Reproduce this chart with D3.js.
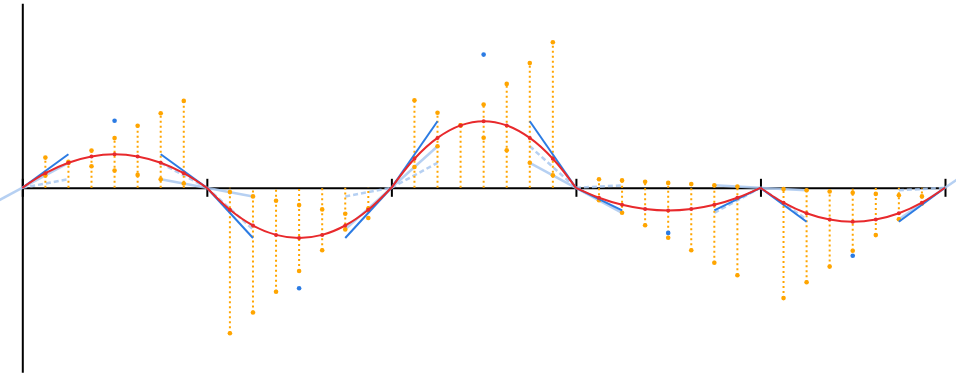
<!DOCTYPE html>
<html>
<head>
<meta charset="utf-8">
<script src="https://cdn.jsdelivr.net/npm/d3@7"></script>
<style>
  html, body { margin: 0; padding: 0; background: #fff; }
  svg { display: block; }
</style>
</head>
<body>
<svg id="chart" width="956" height="379"></svg>
<script>
// ---- data ----
const knots = [0, 1, 2, 3, 4, 5];
const sampleT = [0.125, 0.25, 0.375, 0.5, 0.625, 0.75, 0.875];
// rise of each knot's tangent line over a quarter segment
const knotRise = [0.248, -0.086, 0.416, -0.25, -0.0245, 0.315];
// orange: tangent line from the left knot, evaluated at each sample
const leftLine = [
  [0.124, 0.248, 0.372, 0.497, 0.621, 0.745, 0.869],
  [-0.043, -0.086, -0.129, -0.173, -0.216, -0.259, -0.302],
  [0.208, 0.416, 0.624, 0.832, 1.039, 1.247, 1.455],
  [-0.125, -0.25, -0.375, -0.5, -0.625, -0.75, -0.875],
  [-0.012, -0.025, -0.037, -0.049, -0.061, -0.074, -0.086]
];
// orange: tangent line from the right knot, evaluated at each sample
const rightLine = [
  [0.302, 0.259, 0.216, 0.173, 0.129, 0.086, 0.043],
  [-1.455, -1.247, -1.039, -0.832, -0.624, -0.416, -0.208],
  [0.875, 0.75, 0.625, 0.5, 0.375, 0.25, 0.125],
  [0.086, 0.074, 0.061, 0.049, 0.037, 0.025, 0.012],
  [-1.103, -0.945, -0.788, -0.63, -0.473, -0.315, -0.158]
];
// red curve samples
const curveVals = [
  [0.146, 0.251, 0.314, 0.335, 0.314, 0.251, 0.146],
  [-0.220, -0.377, -0.471, -0.502, -0.471, -0.377, -0.220],
  [0.291, 0.499, 0.624, 0.666, 0.624, 0.499, 0.291],
  [-0.099, -0.169, -0.211, -0.226, -0.211, -0.169, -0.099],
  [-0.149, -0.255, -0.318, -0.340, -0.318, -0.255, -0.149]
];
// blue end tangents reach this value at a quarter of the segment
const tangentTips = [0.335, -0.502, 0.666, -0.226, -0.340];
// blue control points at mid segment
const controlPoints = [0.67, -1.004, 1.332, -0.451, -0.679];

// ---- scales ----
const W = 956, H = 379;
const x = d3.scaleLinear().domain([0, 5]).range([22.3, 945]);
const y = d3.scaleLinear().domain([-1.845, 1.845]).range([372.3, 3.3]);

const C = {
  red: "#e8292c",
  blue: "#2b7be3",
  light: "#a9c8f0",
  orange: "#ffa500",
  black: "#000"
};

const svg = d3.select("#chart");
const segs = d3.range(5);

// ---- axes ----
const xAxis = d3.axisBottom(x).tickValues(knots).tickSize(9).tickSizeOuter(0).tickFormat("");
const gx = svg.append("g").attr("transform", `translate(0,${y(0)})`).call(xAxis);
gx.select(".domain").attr("stroke", C.black).attr("stroke-width", 2);
gx.selectAll(".tick line").attr("y1", -9).attr("y2", 9).attr("stroke", C.black).attr("stroke-width", 2);

const yAxis = d3.axisLeft(y).tickValues([]).tickSizeOuter(0);
const gy = svg.append("g").attr("transform", `translate(${x(0)},0)`).call(yAxis);
gy.select(".domain").attr("stroke", C.black).attr("stroke-width", 2);

const line = d3.line().x(d => x(d[0])).y(d => y(d[1]));

// ---- light blue knot tangent lines (solid) ----
svg.append("g").selectAll("path").data(knots).join("path")
  .attr("d", j => line([[j - 0.25, -knotRise[j]], [j + 0.25, knotRise[j]]]))
  .attr("fill", "none").attr("stroke", C.light).attr("stroke-width", 2.5)
  .attr("stroke-opacity", 0.85);

// ---- light blue mirrored tangents (dashed) ----
const dashedData = [];
segs.forEach(k => {
  dashedData.push([[k, 0], [k + 0.25, -knotRise[k + 1]]]);
  dashedData.push([[k + 0.75, knotRise[k]], [k + 1, 0]]);
});
svg.append("g").selectAll("path").data(dashedData).join("path")
  .attr("d", line)
  .attr("fill", "none").attr("stroke", C.light).attr("stroke-width", 2.5)
  .attr("stroke-dasharray", "5,3").attr("stroke-opacity", 0.85);

// ---- orange dotted sample lines and dots ----
const samples = [];
segs.forEach(k => sampleT.forEach((t, i) => {
  samples.push({ k, t, xv: k + t, l1: leftLine[k][i], l2: rightLine[k][i], r: curveVals[k][i] });
}));
const gO = svg.append("g");
gO.selectAll("line").data(samples).join("line")
  .attr("x1", d => x(d.xv)).attr("x2", d => x(d.xv))
  .attr("y1", d => y(Math.min(0, d.l1, d.l2)))
  .attr("y2", d => y(Math.max(0, d.l1, d.l2)))
  .attr("stroke", C.orange).attr("stroke-width", 2).attr("stroke-dasharray", "2,3");
const orangePts = samples.flatMap(d => [[d.xv, d.l1], [d.xv, d.l2]]);
gO.selectAll("circle").data(orangePts).join("circle")
  .attr("cx", d => x(d[0])).attr("cy", d => y(d[1])).attr("r", 2.3)
  .attr("fill", C.orange);

// ---- blue end tangents ----
const tanData = [];
segs.forEach(k => {
  tanData.push([[k, 0], [k + 0.25, tangentTips[k]]]);
  tanData.push([[k + 0.75, tangentTips[k]], [k + 1, 0]]);
});
svg.append("g").selectAll("path").data(tanData).join("path")
  .attr("d", line).attr("fill", "none").attr("stroke", C.blue).attr("stroke-width", 2);

// ---- red curve per segment ----
const curveLine = d3.line().x(d => x(d[0])).y(d => y(d[1])).curve(d3.curveCatmullRom.alpha(0.5));
svg.append("g").selectAll("path").data(segs).join("path")
  .attr("d", k => curveLine([[k, 0], ...sampleT.map((t, i) => [k + t, curveVals[k][i]]), [k + 1, 0]]))
  .attr("fill", "none").attr("stroke", C.red).attr("stroke-width", 2);
svg.append("g").selectAll("circle").data(samples).join("circle")
  .attr("cx", d => x(d.xv)).attr("cy", d => y(d.r)).attr("r", 2)
  .attr("fill", C.red);

// ---- blue control points ----
svg.append("g").selectAll("circle").data(segs).join("circle")
  .attr("cx", k => x(k + 0.5)).attr("cy", k => y(controlPoints[k])).attr("r", 2.3)
  .attr("fill", C.blue);
</script>
</body>
</html>
